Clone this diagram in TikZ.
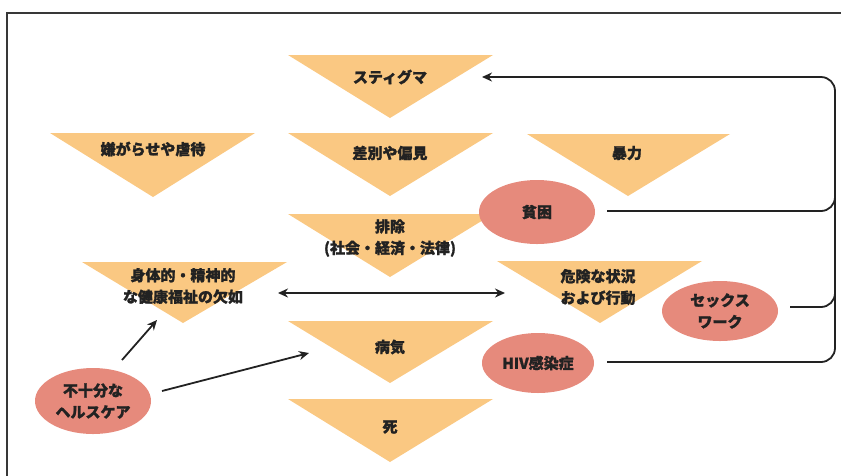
\documentclass[tikz,border=0pt]{standalone}
\usepackage{fontspec}
\setmainfont{Noto Sans CJK JP}[BoldFeatures={FakeBold=1.3}]
\usetikzlibrary{shapes.geometric,arrows.meta,calc}
\definecolor{triC}{HTML}{FAC882}
\definecolor{ellC}{HTML}{E68A7C}
\definecolor{inkC}{HTML}{222222}
\begin{document}
\begin{tikzpicture}[x=1pt,y=-1pt,
  tri/.style={fill=triC},
  lbl/.style={font=\fontsize{15}{21.5}\selectfont\bfseries, text=inkC, align=center, inner sep=0pt},
  oval/.style={ellipse, fill=ellC, inner sep=0pt, font=\fontsize{15}{21.5}\selectfont\bfseries, text=inkC, align=center},
  conn/.style={draw=inkC, line width=1.8pt},
  arr/.style={conn, -{Stealth[length=10pt,width=9pt]}},
  darr/.style={conn, {Stealth[length=10pt,width=9pt]}-{Stealth[length=10pt,width=9pt]}},
  frame/.style={draw=inkC!90, line width=2.8pt}
]
\useasboundingbox (0,0) rectangle (841,475);
\draw[frame] (842,13) -- (7,13) -- (7,476);

% triangles
\fill[tri] (288,55) -- (493,55) -- (390,118) -- cycle;
\fill[tri] (50,133) -- (255,133) -- (153,197) -- cycle;
\fill[tri] (288,133) -- (493,133) -- (390,196) -- cycle;
\fill[tri] (527,134) -- (730,134) -- (628,196) -- cycle;
\fill[tri] (288,214) -- (493,214) -- (390,277) -- cycle;
\fill[tri] (82,262) -- (287,262) -- (183,323) -- cycle;
\fill[tri] (497,261) -- (702,261) -- (600,323) -- cycle;
\fill[tri] (288,321) -- (493,321) -- (390,383) -- cycle;
\fill[tri] (288,399) -- (493,399) -- (390,462) -- cycle;

% triangle labels
\node[lbl] (stig) at (390,77) {スティグマ};
\node[lbl] (harass) at (153,149) {嫌がらせや虐待};
\node[lbl] (disc) at (390,153) {差別や偏見};
\node[lbl] (viol) at (627,153) {暴力};
\node[lbl] (excl) at (390,238) {排除\\(社会・経済・法律)};
\node[lbl] (body) at (183,286) {身体的・精神的\\な健康福祉の欠如};
\node[lbl] (danger) at (598,287) {危険な状況\\および行動};
\node[lbl] (ill) at (390,347) {病気};
\node[lbl] (death) at (390,427) {死};

% ellipses
\node[oval, minimum width=116pt, minimum height=64pt] (pov) at (537,212) {貧困};
\node[oval, minimum width=116pt, minimum height=60pt] (sex) at (720,311) {セックス\\ワーク};
\node[oval, minimum width=112pt, minimum height=60pt] (hiv) at (538,363) {HIV感染症};
\node[oval, minimum width=116pt, minimum height=66pt] (care) at (93,401) {不十分な\\ヘルスケア};

% coordinates for connectors
\coordinate (stigIn) at (482,77);
\coordinate (bodyR) at (278,293);
\coordinate (dangerL) at (505,293);
\coordinate (careT) at (122,360);
\coordinate (bodyB) at (157,320);
\coordinate (careR) at (162,391);
\coordinate (illL) at (309,353);
\coordinate (povR) at (607,211);
\coordinate (sexR) at (790,307);
\coordinate (hivR) at (607,362);

% connectors
\draw[arr, rounded corners=14pt] (hivR) -- (835,362) -- (835,77) -- (stigIn);
\draw[conn, rounded corners=14pt] (povR) -- (835,211) -- (835,180);
\draw[conn, rounded corners=14pt] (sexR) -- (835,307) -- (835,280);
\draw[darr] (bodyR) -- (dangerL);
\draw[arr] (careT) -- (bodyB);
\draw[arr] (careR) -- (illL);
\end{tikzpicture}
\end{document}
